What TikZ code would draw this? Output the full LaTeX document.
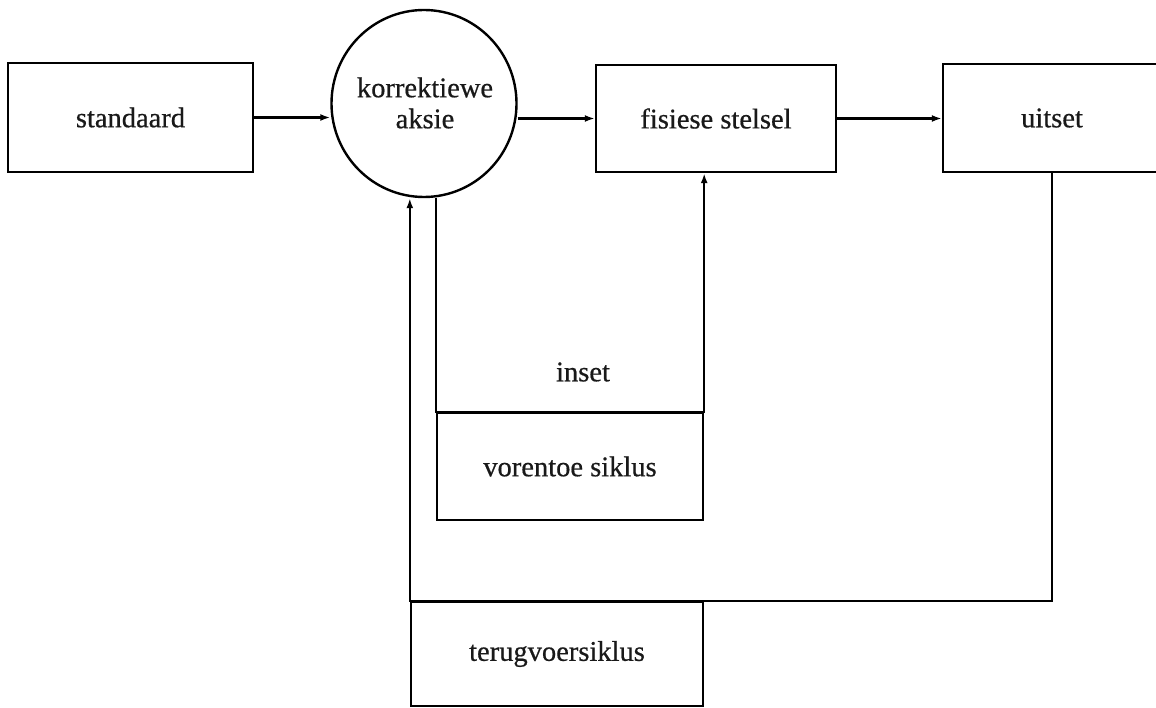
\documentclass[tikz,border=0pt]{standalone}
\usepackage{fontspec}
\setmainfont{Liberation Serif}
\newfontfamily\labelfont[FakeBold=0.6]{Liberation Serif}
\usetikzlibrary{arrows.meta,shapes.geometric}
\begin{document}
\begin{tikzpicture}[x=1pt,y=-1pt,
  line width=2.4pt,
  txt/.style={font=\labelfont\fontsize{28.5}{31}\selectfont,text=black!90},
  blk/.style={draw,rectangle,inner sep=0pt,txt},
  arr/.style={-{Latex[length=10pt,width=7pt]}},
  link/.style={line join=miter}]
\useasboundingbox (0,0) rectangle (1156,708);
\clip (0,0) rectangle (1156,708);

% main chain
\node[blk,minimum width=245pt,minimum height=109pt] (std) at (130.5,117.5) {standaard};
\node[draw,ellipse,inner sep=0pt,minimum width=185pt,minimum height=187pt] (ak) at (424,103.5) {};
\node[txt,align=center] (aktxt) at (425,103) {korrektiewe\\aksie};
\node[blk,minimum width=240pt,minimum height=107pt] (fis) at (716,118.5) {fisiese stelsel};
\node[blk,minimum width=218pt,minimum height=108pt] (uit) at (1052,118) {uitset};

% loop boxes
\node[blk,minimum width=266pt,minimum height=107pt] (vs) at (570,466.5) {vorentoe siklus};
\node[blk,minimum width=292pt,minimum height=104pt] (tv) at (557,654) {terugvoersiklus};
\node[txt] (inset) at (583,372) {inset};

% forward connectors
\draw[arr] (std.east) -- (std.east -| ak.west);
\draw[arr] (ak.east |- fis.west) -- (fis.west);
\draw[arr] (fis.east) -- (uit.west |- fis.east);

% feed-forward loop
\draw[arr,link] (ak.south -| vs.north west) -- (vs.north west) -- (vs.north east) -- (fis.south -| vs.north east);

% feedback loop
\draw[arr,link] (uit.south) -- (uit.south |- tv.north) -- (tv.north west) -- (tv.north west |- ak.south);
\end{tikzpicture}
\end{document}
